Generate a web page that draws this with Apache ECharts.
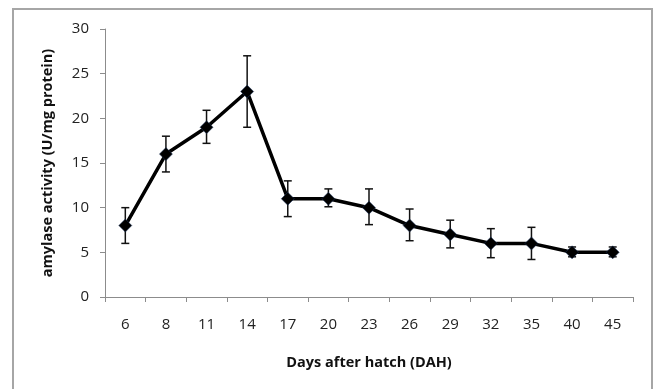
<!DOCTYPE html>
<html><head><meta charset="utf-8">
<script src="https://cdn.jsdelivr.net/npm/echarts@6/dist/echarts.min.js"></script>
<style>html,body{margin:0;padding:0;background:#fff}#c{width:655px;height:389px}</style>
</head><body><div id="c"></div>
<script>
const categories = ['6','8','11','14','17','20','23','26','29','32','35','40','45'];
const values = [8,16,19,23,11,11,10,8,7,6,6,5,5];
const errLow = [6,14,17.2,19,9,10.1,8.1,6.3,5.5,4.4,4.2,4.5,4.5];
const errHigh = [10,18,20.9,27,13,12.1,12.1,9.85,8.6,7.65,7.8,5.6,5.6];
const yTicks = [0,5,10,15,20,25,30];

const chart = echarts.init(document.getElementById('c'), null, {renderer:'canvas'});
const font = "'Open Sans', 'Liberation Sans', sans-serif";
chart.setOption({
  backgroundColor:'#fff',
  animation:false,
  graphic:[{type:'rect',shape:{x:13,y:9,width:639,height:400},style:{fill:'none',stroke:'#a6a6a6',lineWidth:2}}],
  grid:{left:105,right:22,top:29,bottom:92},
  xAxis:{type:'category',data:categories,boundaryGap:true,
    name:'Days after hatch (DAH)',nameLocation:'middle',nameGap:58,
    nameTextStyle:{fontFamily:font,fontWeight:'bold',fontSize:14.5,color:'#111'},
    axisLine:{lineStyle:{color:'#8c8c8c'}},
    axisTick:{show:true,alignWithLabel:false,length:5,lineStyle:{color:'#8c8c8c'}},
    axisLabel:{fontFamily:font,fontSize:15,color:'#222',margin:20}},
  yAxis:{type:'value',min:yTicks[0],max:yTicks[yTicks.length-1],interval:5,
    name:'amylase activity (U/mg protein)',nameLocation:'middle',nameGap:50,
    nameTextStyle:{fontFamily:font,fontWeight:'bold',fontSize:14.5,color:'#111'},
    axisLine:{show:true,lineStyle:{color:'#8c8c8c'}},
    axisTick:{show:true,length:5,lineStyle:{color:'#8c8c8c'}},
    splitLine:{show:false},
    axisLabel:{fontFamily:font,fontSize:15,color:'#222',margin:16}},
  series:[
    {type:'custom',z:3,
     renderItem:function(params,api){
       const i=api.value(0);
       const hi=api.coord([i,api.value(2)]);
       const lo=api.coord([i,api.value(1)]);
       const w=4;
       const st={stroke:'#111',lineWidth:1.5};
       return {type:'group',children:[
         {type:'line',shape:{x1:hi[0],y1:hi[1],x2:lo[0],y2:lo[1]},style:st},
         {type:'line',shape:{x1:hi[0]-w,y1:hi[1],x2:hi[0]+w,y2:hi[1]},style:st},
         {type:'line',shape:{x1:lo[0]-w,y1:lo[1],x2:lo[0]+w,y2:lo[1]},style:st}
       ]};
     },
     data:categories.map((c,i)=>[i,errLow[i],errHigh[i]])},
    {type:'line',z:4,data:values,symbol:'diamond',symbolSize:13,
     lineStyle:{color:'#000',width:3.5},
     itemStyle:{color:'#000',borderColor:'#1f3864',borderWidth:0.5}}
  ]
});
</script></body></html>
